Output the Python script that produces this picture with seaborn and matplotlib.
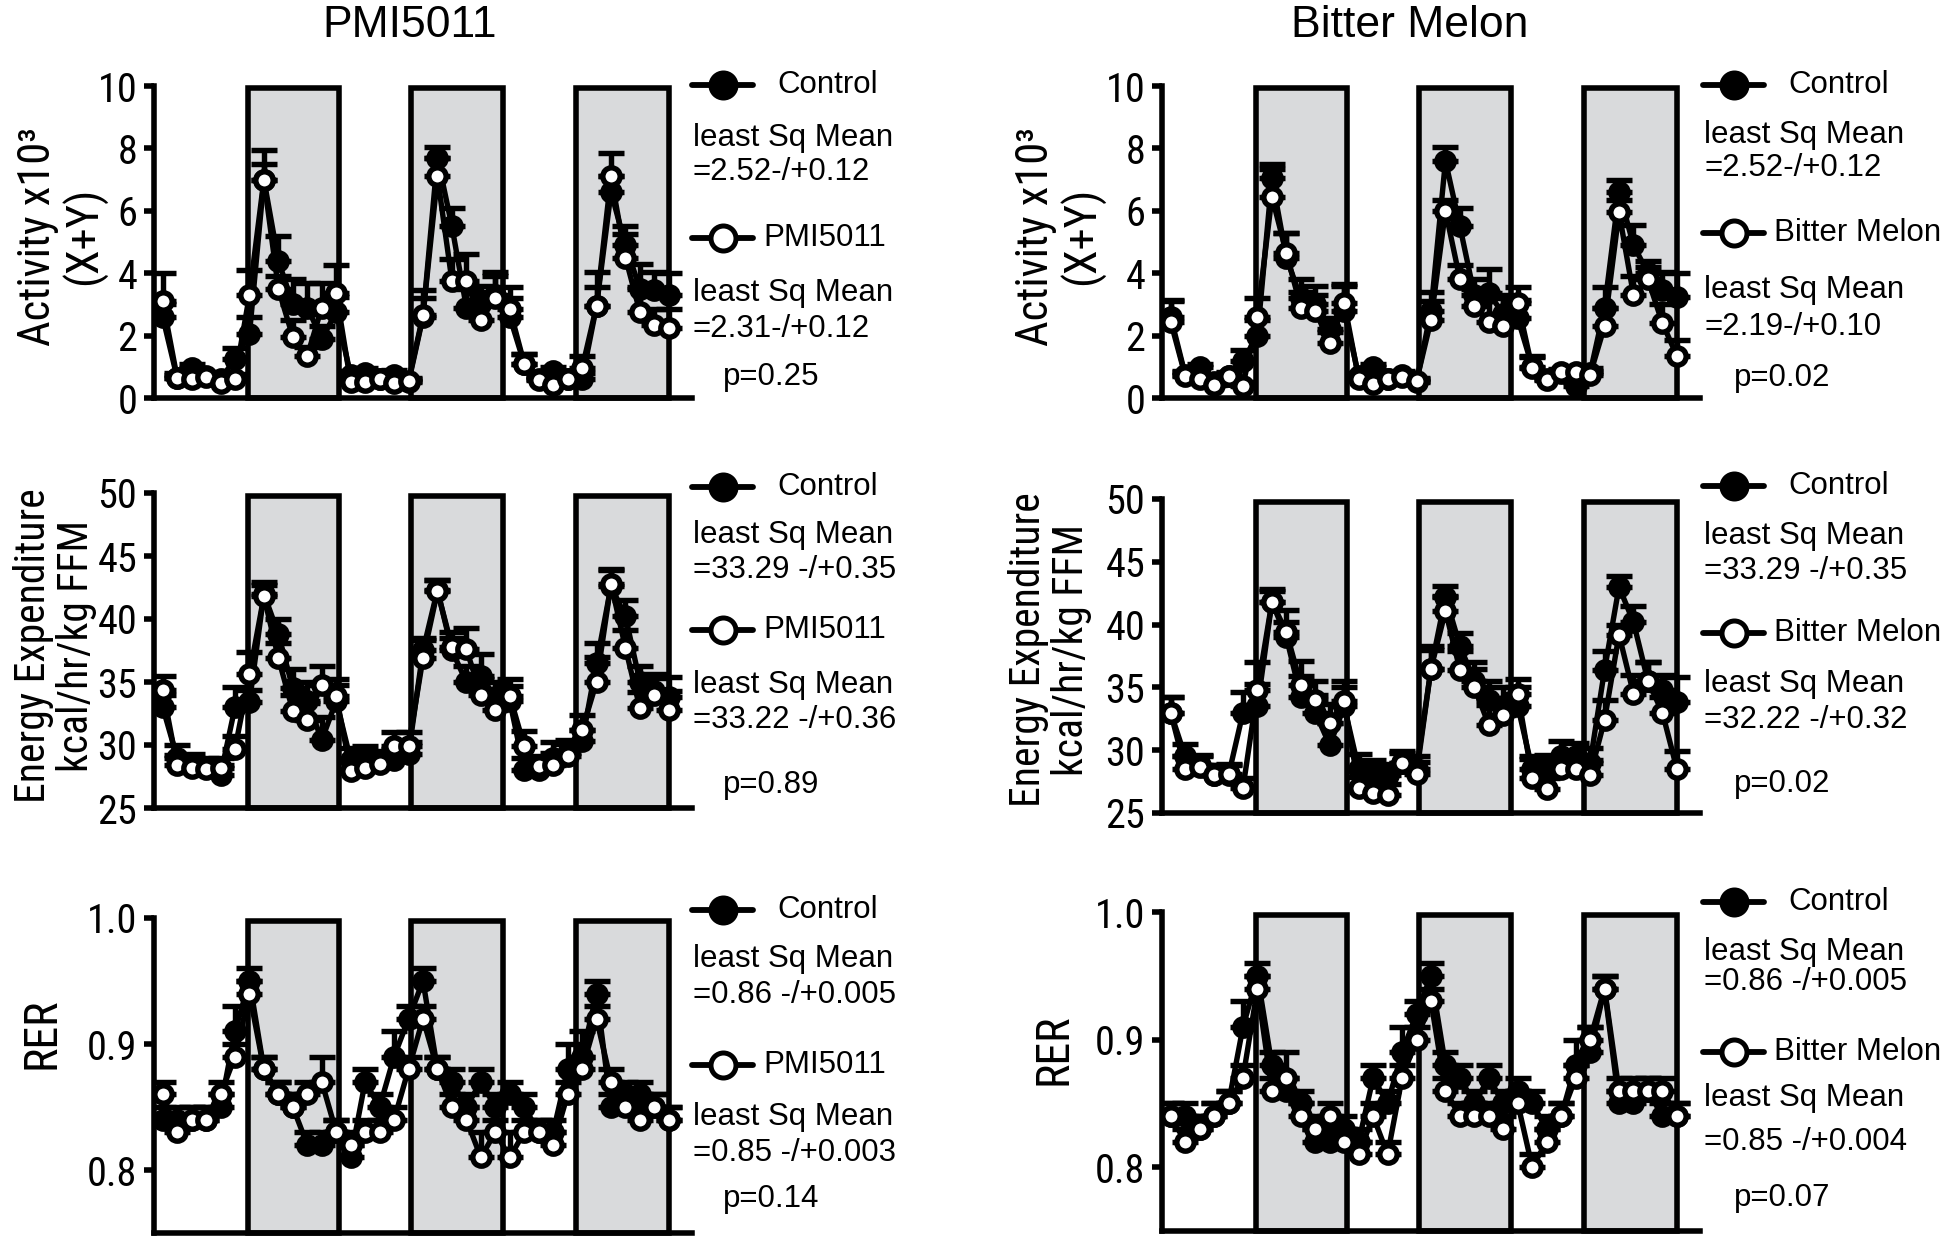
import numpy as np
import pandas as pd
import matplotlib
matplotlib.use("Agg")
import matplotlib.pyplot as plt
import seaborn as sns
from matplotlib import font_manager as fm
from matplotlib.lines import Line2D
from matplotlib.patches import Rectangle

# ---------------- data ----------------
hours = list(range(36))                      # 2-h bins over 3 days
dark_periods = [(5.9, 12.2), (17.2, 23.5), (28.6, 35.0)]

# Activity, PMI5011 panel
act_pmi_ctrl = [2.6, 0.65, 0.95, 0.7, 0.6, 1.25, 2.05, 7.0, 4.4, 3.0, 2.9, 1.9, 2.75, 0.75, 0.8, 0.6, 0.75, 0.5,
                2.6, 7.7, 5.5, 2.9, 3.1, 3.3, 2.6, 1.1, 0.6, 0.85, 0.6, 0.6, 2.95, 6.6, 4.9, 3.5, 3.45, 3.3]
act_pmi_ctrl_err = [0.4, 0.15, 0.15, 0.1, 0.1, 0.35, 0.55, 0.5, 0.8, 0.8, 0.8, 0.4, 0.5, 0.1, 0.15, 0.1, 0.15, 0.1,
                    0.6, 0.35, 0.6, 0.6, 0.5, 0.6, 0.6, 0.3, 0.1, 0.15, 0.1, 0.2, 0.6, 0.5, 0.6, 0.8, 0.6, 0.7]
act_pmi_trt = [3.1, 0.65, 0.62, 0.67, 0.48, 0.62, 3.3, 7.0, 3.5, 1.95, 1.35, 2.9, 3.35, 0.5, 0.52, 0.6, 0.48, 0.55,
               2.65, 7.1, 3.75, 3.75, 2.5, 3.2, 2.85, 1.1, 0.58, 0.42, 0.62, 0.95, 2.95, 7.1, 4.5, 2.75, 2.35, 2.25]
act_pmi_trt_err = [0.9, 0.1, 0.1, 0.1, 0.1, 0.15, 0.8, 0.95, 0.4, 0.55, 0.3, 0.8, 0.9, 0.1, 0.1, 0.1, 0.1, 0.1,
                   0.8, 0.6, 0.7, 0.85, 0.9, 0.85, 0.7, 0.3, 0.1, 0.1, 0.15, 0.4, 1.1, 0.75, 0.75, 0.8, 0.5, 0.6]

# Activity, Bitter Melon panel
act_bm_ctrl = [2.6, 0.75, 1.0, 0.5, 0.7, 1.2, 2.0, 7.05, 4.5, 3.2, 3.0, 2.2, 2.8, 0.7, 1.0, 0.6, 0.75, 0.5,
               2.8, 7.6, 5.5, 3.3, 3.35, 2.7, 2.55, 1.0, 0.6, 0.8, 0.4, 0.8, 2.9, 6.6, 4.9, 4.0, 3.45, 3.25]
act_bm_ctrl_err = [0.5, 0.1, 0.1, 0.1, 0.1, 0.35, 0.5, 0.45, 0.8, 0.6, 0.6, 0.35, 0.8, 0.1, 0.1, 0.1, 0.1, 0.1,
                   0.6, 0.45, 0.6, 0.5, 0.8, 0.6, 0.6, 0.35, 0.1, 0.1, 0.1, 0.15, 0.65, 0.4, 0.65, 0.4, 0.6, 0.75]
act_bm_trt = [2.45, 0.72, 0.62, 0.42, 0.72, 0.4, 2.6, 6.45, 4.65, 2.9, 2.8, 1.75, 3.05, 0.62, 0.46, 0.62, 0.68, 0.55,
              2.5, 6.0, 3.8, 2.95, 2.45, 2.3, 3.05, 0.95, 0.57, 0.84, 0.84, 0.75, 2.3, 5.95, 3.3, 3.8, 2.4, 1.35]
act_bm_trt_err = [0.7, 0.1, 0.1, 0.1, 0.1, 0.1, 0.6, 0.9, 0.65, 0.5, 0.5, 0.35, 0.6, 0.1, 0.1, 0.1, 0.1, 0.1,
                  0.6, 0.35, 0.45, 0.55, 0.8, 0.9, 0.5, 0.35, 0.1, 0.1, 0.1, 0.1, 0.6, 0.4, 0.6, 0.4, 0.6, 0.5]

# Energy expenditure, PMI5011 panel
ee_pmi_ctrl = [33.0, 29.0, 28.5, 28.2, 27.6, 33.0, 33.4, 42.0, 38.8, 34.5, 33.5, 30.4, 33.5, 28.8, 29.0, 28.7, 28.8, 29.3,
               37.5, 42.3, 37.5, 35.0, 35.5, 33.8, 33.5, 28.0, 28.0, 29.0, 29.4, 30.3, 36.5, 42.6, 40.2, 35.0, 34.3, 33.8]
ee_pmi_ctrl_err = [1.0, 1.0, 0.8, 0.8, 0.8, 1.6, 1.0, 0.9, 1.2, 1.5, 1.5, 1.8, 1.3, 1.0, 0.9, 0.8, 0.9, 0.9,
                   1.0, 0.8, 1.0, 1.3, 1.7, 1.2, 1.2, 1.0, 0.9, 1.2, 1.0, 0.9, 1.6, 1.4, 1.3, 1.3, 1.3, 1.6]
ee_pmi_trt = [34.4, 28.4, 28.2, 28.1, 28.2, 29.7, 35.6, 41.8, 36.9, 32.7, 32.0, 34.8, 33.9, 27.9, 28.2, 28.5, 29.9, 29.9,
              36.9, 42.2, 37.8, 37.6, 34.0, 32.8, 33.9, 29.9, 28.3, 28.4, 29.1, 31.2, 35.0, 42.8, 37.7, 32.9, 34.0, 32.8]
ee_pmi_trt_err = [1.1, 0.8, 0.8, 0.8, 0.8, 1.0, 1.8, 0.9, 1.2, 1.3, 1.3, 1.5, 1.3, 0.9, 0.9, 0.8, 1.1, 1.1,
                  1.4, 0.9, 1.2, 1.7, 1.2, 1.0, 1.3, 1.2, 0.8, 1.0, 1.0, 1.2, 2.0, 1.1, 1.4, 1.3, 1.3, 1.5]

# Energy expenditure, Bitter Melon panel
ee_bm_ctrl = [33.0, 29.5, 28.8, 28.0, 28.0, 33.0, 33.5, 41.8, 39.0, 34.2, 33.0, 30.4, 33.5, 28.5, 28.3, 28.0, 29.0, 28.5,
              36.5, 42.2, 38.3, 35.5, 34.0, 33.5, 33.5, 28.5, 28.5, 29.5, 29.5, 29.0, 36.4, 43.0, 40.2, 35.5, 34.8, 33.8]
ee_bm_ctrl_err = [1.2, 1.0, 0.8, 0.8, 0.8, 1.6, 1.8, 0.9, 1.2, 1.7, 1.4, 1.8, 1.5, 1.2, 0.9, 0.9, 0.9, 1.0,
                  1.5, 0.9, 1.0, 1.5, 1.5, 1.5, 1.5, 1.0, 1.1, 1.2, 1.1, 1.2, 1.5, 0.9, 1.3, 1.5, 1.2, 2.0]
ee_bm_trt = [33.0, 28.5, 28.7, 28.0, 28.1, 27.0, 34.8, 41.8, 39.4, 35.2, 34.0, 32.2, 33.9, 27.0, 26.6, 26.4, 29.0, 28.1,
             36.5, 41.1, 36.4, 35.0, 32.0, 32.8, 34.5, 27.8, 26.9, 28.5, 28.5, 28.0, 32.4, 39.2, 34.5, 35.5, 33.0, 28.5]
ee_bm_trt_err = [1.2, 1.0, 0.8, 0.8, 0.8, 0.8, 2.2, 1.0, 1.8, 1.9, 1.5, 1.5, 1.6, 0.9, 0.9, 0.9, 0.8, 1.0,
                 1.8, 1.2, 1.5, 1.5, 1.6, 1.3, 1.2, 1.5, 0.9, 1.0, 1.0, 1.2, 1.6, 0.8, 1.5, 1.5, 1.2, 1.4]

# RER, PMI5011 panel
rer_pmi_ctrl = [0.84, 0.84, 0.84, 0.84, 0.85, 0.91, 0.95, 0.88, 0.86, 0.85, 0.82, 0.82, 0.83, 0.81, 0.87, 0.85, 0.89, 0.92,
                0.95, 0.88, 0.87, 0.85, 0.87, 0.85, 0.86, 0.85, 0.83, 0.83, 0.88, 0.89, 0.94, 0.85, 0.86, 0.86, 0.85, 0.84]
rer_pmi_ctrl_err = [0.01, 0.01, 0.01, 0.01, 0.01, 0.02, 0.01, 0.01, 0.01, 0.01, 0.01, 0.01, 0.01, 0.01, 0.01, 0.01, 0.02, 0.01,
                    0.01, 0.01, 0.01, 0.01, 0.01, 0.01, 0.01, 0.01, 0.01, 0.01, 0.02, 0.02, 0.01, 0.01, 0.01, 0.01, 0.01, 0.01]
rer_pmi_trt = [0.86, 0.83, 0.84, 0.84, 0.86, 0.89, 0.94, 0.88, 0.86, 0.85, 0.86, 0.87, 0.83, 0.82, 0.83, 0.83, 0.84, 0.88,
               0.92, 0.88, 0.85, 0.84, 0.81, 0.83, 0.81, 0.83, 0.83, 0.82, 0.86, 0.88, 0.92, 0.87, 0.85, 0.84, 0.85, 0.84]
rer_pmi_trt_err = [0.01, 0.01, 0.01, 0.01, 0.01, 0.01, 0.01, 0.01, 0.01, 0.01, 0.01, 0.02, 0.01, 0.01, 0.01, 0.01, 0.01, 0.01,
                   0.01, 0.01, 0.01, 0.01, 0.02, 0.01, 0.02, 0.01, 0.01, 0.01, 0.01, 0.01, 0.01, 0.01, 0.01, 0.01, 0.01, 0.01]

# RER, Bitter Melon panel
rer_bm_ctrl = [0.84, 0.84, 0.83, 0.84, 0.85, 0.91, 0.95, 0.88, 0.86, 0.85, 0.82, 0.82, 0.83, 0.82, 0.87, 0.85, 0.89, 0.92,
               0.95, 0.88, 0.87, 0.85, 0.87, 0.85, 0.86, 0.85, 0.83, 0.84, 0.88, 0.89, 0.94, 0.85, 0.85, 0.86, 0.84, 0.84]
rer_bm_ctrl_err = [0.01, 0.01, 0.01, 0.01, 0.01, 0.02, 0.01, 0.01, 0.01, 0.01, 0.01, 0.01, 0.01, 0.01, 0.01, 0.01, 0.02, 0.01,
                   0.01, 0.01, 0.01, 0.01, 0.01, 0.01, 0.01, 0.01, 0.01, 0.01, 0.02, 0.02, 0.01, 0.01, 0.01, 0.01, 0.01, 0.01]
rer_bm_trt = [0.84, 0.82, 0.83, 0.84, 0.85, 0.87, 0.94, 0.86, 0.87, 0.84, 0.83, 0.84, 0.82, 0.81, 0.84, 0.81, 0.87, 0.90,
              0.93, 0.86, 0.84, 0.84, 0.84, 0.83, 0.85, 0.80, 0.82, 0.84, 0.87, 0.90, 0.94, 0.86, 0.86, 0.86, 0.86, 0.84]
rer_bm_trt_err = [0.01, 0.01, 0.01, 0.01, 0.01, 0.01, 0.01, 0.01, 0.02, 0.01, 0.01, 0.01, 0.01, 0.01, 0.01, 0.01, 0.01, 0.01,
                  0.01, 0.01, 0.01, 0.01, 0.01, 0.01, 0.01, 0.01, 0.01, 0.01, 0.01, 0.01, 0.01, 0.01, 0.01, 0.01, 0.01, 0.01]

act_ticks = [0, 2, 4, 6, 8, 10]
ee_ticks = [25, 30, 35, 40, 45, 50]
rer_ticks = [0.8, 0.9, 1.0]
rer_ticklabels = ["0.8", "0.9", "1.0"]

titles = ["PMI5011", "Bitter Melon"]
stats_text = {
    (0, 0): ["=2.52-/+0.12", "=2.31-/+0.12", "p=0.25"],
    (0, 1): ["=2.52-/+0.12", "=2.19-/+0.10", "p=0.02"],
    (1, 0): ["=33.29 -/+0.35", "=33.22 -/+0.36", "p=0.89"],
    (1, 1): ["=33.29 -/+0.35", "=32.22 -/+0.32", "p=0.02"],
    (2, 0): ["=0.86 -/+0.005", "=0.85 -/+0.003", "p=0.14"],
    (2, 1): ["=0.86 -/+0.005", "=0.85 -/+0.004", "p=0.07"],
}

# ---------------- figure ----------------
sns.set_theme(style="white")
plt.rcParams["font.family"] = ["Liberation Sans", "DejaVu Sans"]
plt.rcParams["text.color"] = "black"


def has_font(name):
    try:
        path = fm.findfont(fm.FontProperties(family=name), fallback_to_default=False)
        return name.split()[0].lower() in path.lower().replace("-", " ").replace("_", " ")
    except Exception:
        return False


narrow_name = None
for cand in ["Liberation Sans Narrow", "Arial Narrow", "Roboto Condensed"]:
    if has_font(cand):
        narrow_name = cand
        break

if narrow_name:
    AXFONT = [narrow_name, "Liberation Sans", "DejaVu Sans"]
    TICK_FS = 29
    YL_FS = {"act": 32, "ee": 30, "rer": 33}
else:
    AXFONT = ["Liberation Sans", "DejaVu Sans"]
    TICK_FS = 27
    YL_FS = {"act": 27, "ee": 26.5, "rer": 28}

W, H = 1946, 1239
fig = plt.figure(figsize=(W / 100, H / 100), dpi=100)


def fx(x):
    return x / W


def fy(y):
    return 1 - y / H


def add_ax(l, t, r, b):
    return fig.add_axes([l / W, 1 - b / H, (r - l) / W, (b - t) / H])


panels = [
    dict(rc=(0, 0), box=(154, 86, 692, 398), d=(act_pmi_ctrl, act_pmi_ctrl_err, act_pmi_trt, act_pmi_trt_err),
         ylim=(0, 10), ticks=act_ticks, tl=[str(t) for t in act_ticks],
         ylabel="Activity x10³\n(X+Y)", yl=(62, 236), kind="act",
         lx=692, ly=[85, 138, 172, 238, 293, 329, 377]),
    dict(rc=(0, 1), box=(1162, 86, 1700, 398), d=(act_bm_ctrl, act_bm_ctrl_err, act_bm_trt, act_bm_trt_err),
         ylim=(0, 10), ticks=act_ticks, tl=[str(t) for t in act_ticks],
         ylabel="Activity x10³\n(X+Y)", yl=(1060, 236), kind="act",
         lx=1703, ly=[85, 135, 168, 233, 290, 327, 378]),
    dict(rc=(1, 0), box=(154, 493, 692, 808), d=(ee_pmi_ctrl, ee_pmi_ctrl_err, ee_pmi_trt, ee_pmi_trt_err),
         ylim=(25, 50), ticks=ee_ticks, tl=[str(t) for t in ee_ticks],
         ylabel="Energy Expenditure\nkcal/hr/kg FFM", yl=(55, 646), kind="ee",
         lx=692, ly=[487, 535, 570, 630, 685, 720, 785]),
    dict(rc=(1, 1), box=(1162, 499, 1700, 813), d=(ee_bm_ctrl, ee_bm_ctrl_err, ee_bm_trt, ee_bm_trt_err),
         ylim=(25, 50), ticks=ee_ticks, tl=[str(t) for t in ee_ticks],
         ylabel="Energy Expenditure\nkcal/hr/kg FFM", yl=(1050, 650), kind="ee",
         lx=1703, ly=[486, 536, 571, 633, 684, 720, 784]),
    dict(rc=(2, 0), box=(154, 918, 692, 1233), d=(rer_pmi_ctrl, rer_pmi_ctrl_err, rer_pmi_trt, rer_pmi_trt_err),
         ylim=(0.75, 1.0), ticks=rer_ticks, tl=rer_ticklabels,
         ylabel="RER", yl=(42, 1033), kind="rer",
         lx=692, ly=[910, 959, 995, 1065, 1117, 1153, 1199]),
    dict(rc=(2, 1), box=(1162, 912, 1700, 1231), d=(rer_bm_ctrl, rer_bm_ctrl_err, rer_bm_trt, rer_bm_trt_err),
         ylim=(0.75, 1.0), ticks=rer_ticks, tl=rer_ticklabels,
         ylabel="RER", yl=(1053, 1049), kind="rer",
         lx=1703, ly=[902, 952, 982, 1052, 1098, 1142, 1198]),
]

LW = 3.9
MS = 12.5
for p in panels:
    ax = add_ax(*p["box"])
    ymin, ymax = p["ylim"]
    ax.set_xlim(-0.6, 36.6)
    ax.set_ylim(ymin, ymax)
    for (x0, x1) in dark_periods:
        ax.add_patch(Rectangle((x0, ymin), x1 - x0, (ymax - ymin) * 0.992,
                               facecolor="#d9dadc", edgecolor="black", lw=4.0,
                               zorder=1, clip_on=False))
    ctrl, ctrl_err, trt, trt_err = p["d"]
    zeros = np.zeros(len(hours))
    ax.errorbar(hours, ctrl, yerr=[zeros, ctrl_err], fmt="none", ecolor="black",
                elinewidth=LW, capsize=9.5, capthick=LW, zorder=3)
    sns.lineplot(x=hours, y=ctrl, ax=ax, color="black", lw=LW, marker="o",
                 markersize=MS, markerfacecolor="black", markeredgecolor="black",
                 markeredgewidth=LW, errorbar=None, zorder=4)
    ax.errorbar(hours, trt, yerr=[zeros, trt_err], fmt="none", ecolor="black",
                elinewidth=LW, capsize=9.5, capthick=LW, zorder=5)
    sns.lineplot(x=hours, y=trt, ax=ax, color="black", lw=LW, marker="o",
                 markersize=MS, markerfacecolor="white", markeredgecolor="black",
                 markeredgewidth=LW, errorbar=None, zorder=6)

    sns.despine(ax=ax)
    for s in ("left", "bottom"):
        ax.spines[s].set_linewidth(4.0)
        ax.spines[s].set_color("black")
        ax.spines[s].set_zorder(7)
    ax.set_yticks(p["ticks"])
    ax.set_yticklabels(p["tl"], fontfamily=AXFONT)
    ax.set_xticks([])
    ax.tick_params(axis="y", left=True, length=7, width=4.0, color="black",
                   labelsize=TICK_FS, pad=5, labelcolor="black")
    ax.set_xlabel("")
    ax.set_ylabel("")
    ax.patch.set_alpha(0)

    # y label
    fig.text(fx(p["yl"][0]), fy(p["yl"][1]), p["ylabel"], rotation=90,
             ha="center", va="center", multialignment="center",
             fontsize=YL_FS[p["kind"]], linespacing=1.08, family=AXFONT)

    # legend block
    lx = p["lx"]
    ly = p["ly"]
    r, c = p["rc"]
    trt_name = titles[c]
    s1, s2, pv = stats_text[(r, c)]
    for yy, face in ((ly[0], "black"), (ly[3], "white")):
        fig.add_artist(Line2D([fx(lx), fx(lx + 61)], [fy(yy), fy(yy)], color="black",
                              lw=4.2, transform=fig.transFigure))
        fig.add_artist(Line2D([fx(lx + 30.5)], [fy(yy)], marker="o", markersize=18,
                              markerfacecolor=face, markeredgecolor="black",
                              markeredgewidth=3.6, transform=fig.transFigure))
    fs = 22.5
    fig.text(fx(lx + 85), fy(ly[0]), "Control", fontsize=fs, ha="left", va="center")
    fig.text(fx(lx + 1), fy(ly[1]), "least Sq Mean", fontsize=fs, ha="left", va="center")
    fig.text(fx(lx + 1), fy(ly[2]), s1, fontsize=fs, ha="left", va="center")
    fig.text(fx(lx + 71), fy(ly[3]), trt_name, fontsize=fs, ha="left", va="center")
    fig.text(fx(lx + 1), fy(ly[4]), "least Sq Mean", fontsize=fs, ha="left", va="center")
    fig.text(fx(lx + 1), fy(ly[5]), s2, fontsize=fs, ha="left", va="center")
    fig.text(fx(lx + 31), fy(ly[6]), pv, fontsize=fs, ha="left", va="center")

fig.text(fx(410), fy(37), titles[0], fontsize=32, ha="center", va="baseline")
fig.text(fx(1410), fy(37), titles[1], fontsize=32, ha="center", va="baseline")

fig.savefig("out.png", dpi=100, facecolor="white")
